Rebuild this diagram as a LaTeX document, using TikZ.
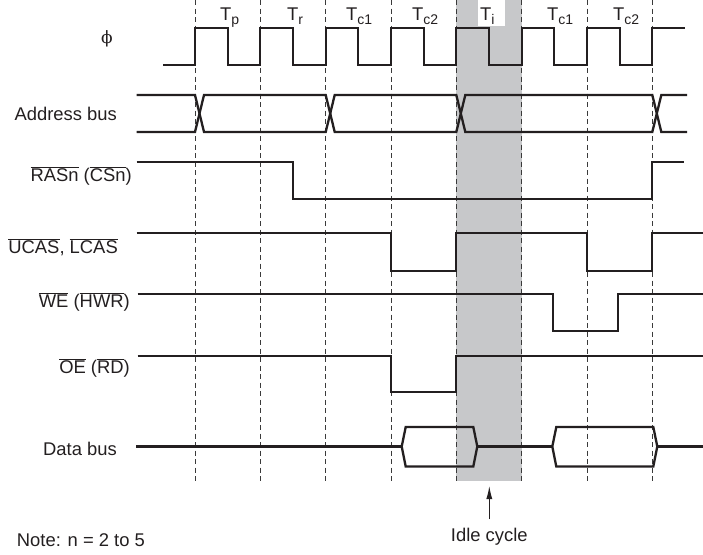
\documentclass[tikz,border=0pt]{standalone}
\usepackage{fontspec}
\setmainfont{Liberation Sans}
\newfontfamily\phifont{DejaVu Serif}
\usetikzlibrary{arrows.meta}
\definecolor{ink}{HTML}{231F20}
\definecolor{gridc}{HTML}{3A3A3A}
\definecolor{idlegray}{HTML}{C7C8CA}
\newcommand\labfont{\fontsize{18.4}{22}\selectfont}
\newcommand\tlabfont{\fontsize{18.4}{22}\selectfont}
\newcommand\ovl[1]{\ensuremath{\overline{\hbox{#1}}}}
\newcommand\Tsub[1]{T\raisebox{-4.5pt}{\fontsize{14}{14}\selectfont #1}}
\tikzset{
  sig/.style={line width=2.3pt, draw=ink, line join=miter},
  gridline/.style={dash pattern=on 5pt off 3.5pt, line width=0.9pt, draw=gridc},
  lab/.style={anchor=base east, inner sep=0pt, font=\labfont, text=ink},
  tlab/.style={anchor=base west, inner sep=0pt, font=\tlabfont, text=ink},
}
\begin{document}
\begin{tikzpicture}[x=1pt,y=-1pt]
\useasboundingbox (0,0) rectangle (703,554);
% idle shading
\fill[idlegray] (456.3,0) rectangle (521.7,481);
% dashed cycle boundaries
\foreach \i in {0,...,7} {
  \draw[gridline] ({195+65.333*\i},0) -- ({195+65.333*\i},483);
}
% cycle labels
\node[tlab] (tp) at (220,20) {\Tsub{p}};
\node[tlab] (tr) at (287,20) {\Tsub{r}};
\node[tlab] (tc1a) at (346,20) {\Tsub{c1}};
\node[tlab] (tc2a) at (412,20) {\Tsub{c2}};
\node[fill=white, minimum width=27pt, minimum height=26pt, inner sep=0pt] (tibox) at (491.5,13) {};
\node[tlab] (ti) at (480,20) {\Tsub{i}};
\node[tlab] (tc1b) at (547,20) {\Tsub{c1}};
\node[tlab] (tc2b) at (613,20) {\Tsub{c2}};
% signal names
\node[inner sep=0pt, font=\phifont\fontsize{17}{17}\selectfont, text=ink] (phi) at (107,38.5) {ϕ};
\node[lab] (addr) at (117,120.7) {Address bus};
\node[lab] (ras) at (132,181) {\ovl{RASn} (\ovl{CSn})};
\node[lab] (cas) at (118,253.3) {\ovl{UCAS}, \ovl{LCAS}};
\node[lab] (we) at (130,307.7) {\ovl{WE} (\ovl{HWR})};
\node[lab] (oe) at (130,373.3) {\ovl{OE} (\ovl{RD})};
\node[lab] (data) at (117,455) {Data bus};
\node[anchor=base west, inner sep=0pt, font=\labfont, text=ink] (note) at (16.7,546) {Note: n = 2 to 5};
\node[anchor=base, inner sep=0pt, font=\labfont, text=ink] (idle) at (489.3,541.7) {Idle cycle};
% clock
\draw[sig] (163,65) foreach \i in {0,...,6} { -- ({195+65.333*\i},65) -- ++(0,-36.7) -- ++(32.67,0) -- ++(0,36.7) } -- (652.3,65) -- (652.3,28.3) -- (685,28.3);
% address bus
\draw[sig] (136.7,95) -- (195,95) -- (204,132) -- (325.7,132) -- (334.7,95) -- (456.3,95) -- (465.3,132) -- (652.3,132) -- (661.3,95) -- (687,95);
\draw[sig] (136.7,132) -- (195,132) -- (204,95) -- (325.7,95) -- (334.7,132) -- (456.3,132) -- (465.3,95) -- (652.3,95) -- (661.3,132) -- (687,132);
% RAS
\draw[sig] (136.7,162.3) -- (292.7,162.3) -- (292.7,199.3) -- (652.3,199.3) -- (652.3,162.3) -- (684,162.3);
% UCAS LCAS
\draw[sig] (136.7,233.3) -- (391,233.3) -- (391,270.7) -- (456.3,270.7) -- (456.3,233.3) -- (587,233.3) -- (587,270.7) -- (652.3,270.7) -- (652.3,233.3) -- (703,233.3);
% WE
\draw[sig] (137.7,294) -- (553,294) -- (553,331) -- (618.3,331) -- (618.3,294) -- (703,294);
% OE
\draw[sig] (137.7,355.7) -- (391,355.7) -- (391,392.3) -- (456.3,392.3) -- (456.3,355.7) -- (703,355.7);
% data bus
\draw[sig] (136,446.5) -- (401.7,446.5);
\draw[sig] (401.7,446.5) -- (405.7,427) -- (473.3,427) -- (477.3,446.5) -- (473.3,466.5) -- (405.7,466.5) -- cycle;
\draw[sig] (477.3,446.5) -- (552.3,446.5);
\draw[sig] (552.3,446.5) -- (556.3,427) -- (653.3,427) -- (657.3,446.5) -- (653.3,466.5) -- (556.3,466.5) -- cycle;
\draw[sig] (657.3,446.5) -- (703,446.5);
% idle arrow
\coordinate (idletip) at (489.3,486);
\draw[-{Latex[length=13pt,width=6pt]}, line width=1pt, draw=ink, fill=ink] ([yshift=9pt]idle.north) -- (idletip);
\end{tikzpicture}
\end{document}
